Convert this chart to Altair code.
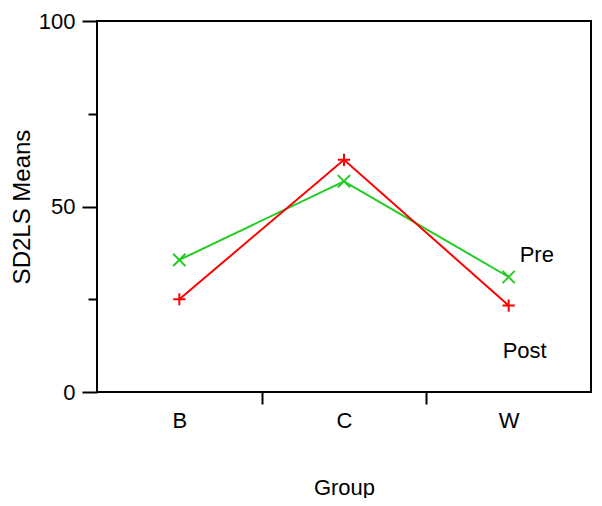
import altair as alt
import pandas as pd

groups = ["B", "C", "W"]
pre_means = [35.6, 56.8, 31.0]
post_means = [25.0, 62.6, 23.3]
series_names = ["Pre", "Post"]
series_colors = ["#22cc22", "#ff0000"]
series_shapes = ["M-1,-1L1,1M-1,1L1,-1", "M-1,0L1,0M0,-1L0,1"]
label_group = "W"
pre_label_value = 36.9
post_label_value = 11.1

rows = []
for g, v in zip(groups, pre_means):
    rows.append({"Group": g, "Mean": v, "Series": "Pre"})
for g, v in zip(groups, post_means):
    rows.append({"Group": g, "Mean": v, "Series": "Post"})
df = pd.DataFrame(rows)

pre_lab = pd.DataFrame({"Group": [label_group], "Mean": [pre_label_value], "Series": ["Pre"]})
post_lab = pd.DataFrame({"Group": [label_group], "Mean": [post_label_value], "Series": ["Post"]})

FONT = "Liberation Sans"

x = alt.X("Group:N", sort=groups, title="Group",
          scale=alt.Scale(paddingInner=0, paddingOuter=0),
          axis=alt.Axis(tickBand="extent", tickSize=12, tickWidth=2, tickColor="black",
                        tickOpacity=alt.condition("datum.value == 'W' || datum.extra", alt.value(0), alt.value(1)),
                        domain=False, labelAngle=0, labelFont=FONT, labelFontSize=22,
                        labelColor="black", labelPadding=6, titleFont=FONT,
                        titleFontSize=22, titleFontWeight="normal", titleColor="black",
                        titlePadding=46, grid=False))
y = alt.Y("Mean:Q", title="SD2LS Means",
          scale=alt.Scale(domain=[0, 100], nice=False),
          axis=alt.Axis(values=[0, 25, 50, 75, 100],
                        tickSize=alt.condition("datum.value % 50 != 0", alt.value(9), alt.value(15)),
                        tickWidth=2, tickColor="black", domain=False,
                        labelExpr="datum.value % 50 == 0 ? datum.label : ''",
                        labelFont=FONT, labelFontSize=22, labelColor="black",
                        labelPadding=7, titleFont=FONT, titleFontSize=24,
                        titleFontWeight="normal", titleColor="black",
                        titlePadding=4, grid=False))

color = alt.Color("Series:N", scale=alt.Scale(domain=series_names, range=series_colors), legend=None)
shape = alt.Shape("Series:N", scale=alt.Scale(domain=series_names, range=series_shapes), legend=None)

base = alt.Chart(df)
lines = base.mark_line(strokeWidth=2).encode(x=x, y=y, color=color, detail="Series:N")
points = base.mark_point(filled=False, size=150, strokeWidth=2, opacity=1).encode(
    x=x, y=y, color=color, shape=shape)
pre_text = alt.Chart(pre_lab).mark_text(align="left", baseline="middle", font=FONT, fontSize=22,
                                        color="black", dx=11).encode(x=x, y=y, text="Series:N")
post_text = alt.Chart(post_lab).mark_text(align="left", baseline="middle", font=FONT, fontSize=22,
                                          color="black", dx=-6).encode(x=x, y=y, text="Series:N")

chart = alt.layer(lines, points, pre_text, post_text).properties(
    width=494, height=371,
    autosize=alt.AutoSizeParams(type="none"),
    padding={"left": 89, "top": 13, "right": 3, "bottom": 106},
    background="white",
).configure_view(stroke="black", strokeWidth=2)

chart.save("out.html", embed_options={"renderer": "svg", "actions": False})
